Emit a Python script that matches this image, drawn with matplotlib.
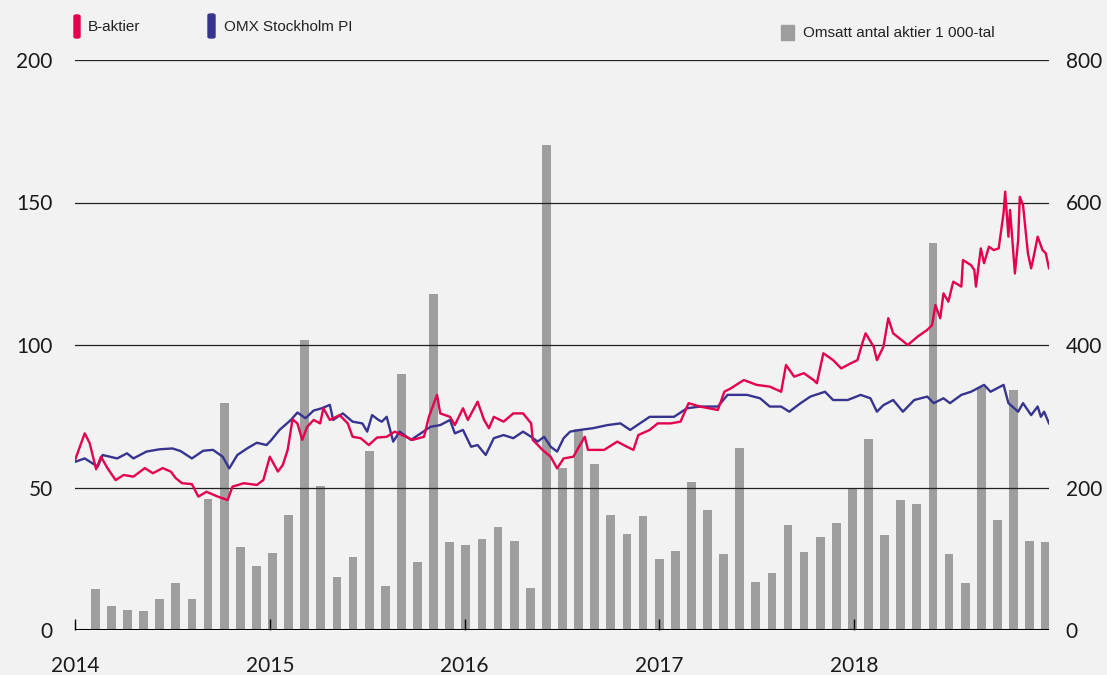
import numpy as np
import matplotlib
matplotlib.use("Agg")
import matplotlib.pyplot as plt
from matplotlib.patches import FancyBboxPatch, Rectangle

# monthly traded volume (1 000-tal), Jan 2014 .. Dec 2018
volume = [57, 34, 28, 26, 43, 66, 44, 184, 318, 117, 90, 108,
          161, 407, 202, 74, 102, 251, 62, 360, 95, 471, 124, 120,
          128, 144, 125, 59, 681, 228, 282, 233, 161, 135, 160, 100,
          111, 208, 169, 107, 256, 67, 80, 148, 109, 131, 150, 198,
          268, 133, 183, 177, 543, 107, 66, 341, 155, 337, 125, 123]

# B-aktier, (month since Jan 2014, index value)
b_month = [0.0, 0.6, 0.9, 1.3, 1.6, 2.0, 2.5, 3.0, 3.6, 4.3, 4.8, 5.4, 5.9, 6.2, 6.6,
           7.2, 7.6, 8.1, 8.8, 9.4, 9.7, 10.4, 11.2, 11.6, 12.0, 12.5, 12.8, 13.1, 13.4,
           13.7, 14.0, 14.3, 14.7, 15.1, 15.3, 15.7, 16.3, 16.8, 17.1, 17.6, 18.1, 18.6,
           19.2, 19.7, 20.8, 21.5, 21.8, 22.3, 22.5, 23.1, 23.4, 23.9, 24.2, 24.8, 25.2,
           25.5, 25.8, 26.4, 27.0, 27.6, 28.1, 28.2, 28.8, 29.3, 29.7, 30.1, 30.7, 31.4,
           31.6, 32.6, 33.4, 34.0, 34.4, 34.7, 35.4, 35.9, 36.7, 37.3, 37.8, 38.5, 39.6,
           40.0, 40.4, 41.2, 42.0, 42.8, 43.5, 43.8, 44.3, 44.9, 45.5, 45.7, 46.1, 46.7,
           47.2, 47.8, 48.2, 48.5, 48.7, 49.2, 49.4, 49.8, 50.1, 50.4, 50.9, 51.3, 51.9,
           52.5, 52.8, 53.0, 53.3, 53.5, 53.8, 54.1, 54.6, 54.7, 55.2, 55.4, 55.5, 55.8,
           56.0, 56.3, 56.6, 56.9, 57.2, 57.3, 57.5, 57.6, 57.9, 58.1, 58.2, 58.4, 58.7,
           58.9, 59.1, 59.3, 59.6, 59.8, 60.0]
b_value = [59.6, 69.0, 65.6, 56.4, 60.8, 56.8, 52.6, 54.4, 53.8, 56.8, 55.0, 56.8, 55.6, 53.3, 51.5,
           51.2, 46.8, 48.5, 46.8, 45.6, 50.3, 51.5, 50.9, 52.6, 60.8, 55.6, 57.9, 63.2, 73.9,
           72.5, 66.7, 71.3, 73.7, 72.5, 77.8, 73.7, 75.4, 72.5, 67.8, 67.3, 64.9, 67.5,
           67.8, 69.6, 66.7, 67.8, 74.8, 82.5, 76.0, 74.8, 71.9, 77.8, 73.7, 80.1, 73.7,
           70.8, 74.8, 73.1, 76.0, 76.0, 72.5, 66.7, 63.2, 60.8, 56.7, 60.2, 60.8, 67.8,
           63.2, 63.2, 66.1, 64.3, 63.2, 68.4, 70.2, 72.5, 72.5, 73.1, 79.6, 78.4, 77.2,
           83.6, 84.8, 87.7, 86.0, 85.4, 83.6, 93.0, 88.9, 90.1, 87.7, 86.6, 97.1, 94.7,
           91.8, 93.6, 94.7, 100.6, 104.1, 99.4, 94.7, 99.4, 109.4, 104.1, 101.8, 100.0, 102.9,
           105.3, 107.0, 114.0, 109.4, 118.1, 115.2, 122.2, 120.5, 129.8, 128.0, 126.3, 120.5, 133.9,
           128.7, 134.5, 133.3, 133.9, 146.2, 153.8, 138.0, 147.4, 125.1, 136.8, 152.0, 149.1, 132.2,
           126.9, 132.2, 138.0, 133.3, 132.2, 126.9]

# OMX Stockholm PI
omx_month = [0.0, 0.6, 1.4, 1.7, 2.6, 3.2, 3.6, 4.4, 5.2, 6.0, 6.5, 7.2, 7.9, 8.5, 9.1,
             9.5, 10.0, 10.6, 11.2, 11.8, 12.1, 12.6, 13.3, 13.7, 14.2, 14.7, 15.2, 15.7,
             15.9, 16.5, 17.1, 17.7, 18.0, 18.3, 18.7, 18.9, 19.2, 19.6, 20.0, 20.7, 21.3,
             21.9, 22.5, 23.1, 23.4, 23.9, 24.4, 24.8, 25.3, 25.8, 26.4, 27.0, 27.6, 28.1,
             28.5, 28.9, 29.3, 29.7, 30.1, 30.5, 31.1, 31.9, 32.8, 33.6, 34.2, 34.8, 35.4,
             36.1, 36.9, 37.7, 38.5, 39.6, 40.2, 41.4, 42.2, 42.8, 43.5, 44.0, 44.7, 45.3,
             46.2, 46.7, 47.6, 48.4, 49.0, 49.4, 49.8, 50.4, 51.0, 51.7, 52.5, 52.9, 53.5,
             53.9, 54.6, 55.2, 56.0, 56.4, 57.2, 57.5, 58.1, 58.4, 58.9, 59.3, 59.5, 59.7, 60.0]
omx_value = [59.0, 60.2, 57.3, 61.4, 60.2, 62.0, 60.2, 62.6, 63.4, 63.7, 62.8, 60.2, 62.9, 63.2, 60.8,
             56.7, 61.4, 63.7, 65.7, 64.9, 66.7, 70.2, 73.7, 76.3, 74.3, 77.0, 77.8, 79.0,
             73.7, 76.0, 73.1, 72.5, 69.6, 75.4, 73.7, 73.1, 74.8, 66.1, 69.6, 66.7, 69.0,
             71.3, 71.9, 73.7, 69.0, 70.2, 64.3, 64.9, 61.4, 67.3, 68.4, 67.3, 69.6, 67.8,
             66.1, 67.8, 64.3, 62.6, 67.3, 69.6, 70.2, 70.8, 71.9, 72.5, 70.2, 72.5, 74.8,
             74.8, 74.8, 77.8, 78.4, 78.4, 82.5, 82.5, 81.3, 78.4, 78.4, 76.6, 79.6, 81.9,
             83.6, 80.7, 80.7, 82.5, 81.3, 76.6, 78.9, 80.7, 76.6, 80.7, 81.9, 79.6, 81.3,
             79.6, 82.5, 83.6, 86.0, 83.6, 86.0, 79.6, 76.6, 79.6, 75.4, 78.4, 74.8, 76.6, 72.5]

years = ["2014", "2015", "2016", "2017", "2018"]
left_ticks = [0, 50, 100, 150, 200]
right_ticks = [0, 200, 400, 600, 800]

RED = "#e4004f"
BLUE = "#37348f"
GREY = "#9e9e9e"
BG = "#f2f2f2"
W, H = 1107, 675

fig = plt.figure(figsize=(W / 100, H / 100), dpi=100, facecolor=BG)
ax = fig.add_axes([75 / W, 1 - 630 / H, (1049 - 75) / W, (630 - 60) / H])
ax.set_facecolor(BG)
ax2 = ax.twinx()

# bars on the primary axis (right scale), lines on twin drawn above
bar_pos = np.linspace(1.25, 59.8, len(volume))
ax.bar(bar_pos, volume, width=0.54, color=GREY, zorder=1)
for v in right_ticks[1:]:
    ax.axhline(v, color="#222222", lw=0.9, zorder=2)
ax.axhline(0, color="black", lw=2.2, zorder=3)
ax.set_ylim(0, 800)
ax.set_xlim(0, 60)
ax.yaxis.tick_right()
ax.set_yticks(right_ticks)
ax.set_yticklabels([str(v) for v in right_ticks])
ax.tick_params(axis="y", length=0, pad=12, labelsize=15)
ax.set_xticks([0, 12, 24, 36, 48])
ax.set_xticklabels(years)
ax.tick_params(axis="x", direction="in", length=8, width=1, pad=19, labelsize=15)
for s in ax.spines.values():
    s.set_visible(False)

ax2.plot(omx_month, omx_value, color=BLUE, lw=1.7, zorder=4)
ax2.plot(b_month, b_value, color=RED, lw=1.7, zorder=5)
ax2.set_ylim(0, 200)
ax2.set_xlim(0, 60)
ax2.yaxis.tick_left()
ax2.set_yticks(left_ticks)
ax2.set_yticklabels([str(v) for v in left_ticks])
ax2.tick_params(axis="y", length=0, pad=16, labelsize=15)
for s in ax2.spines.values():
    s.set_visible(False)

for a in (ax, ax2):
    for lab in a.get_xticklabels() + a.get_yticklabels():
        lab.set_fontfamily("Lato")
        lab.set_color("#1a1a1a")

# legend
def fx(px):
    return px / W

def fy(py):
    return 1 - py / H

fig.patches.append(FancyBboxPatch((fx(74), fy(38)), 6 / W, 23 / H, boxstyle="round,pad=0,rounding_size=0.002",
                                  transform=fig.transFigure, color=RED))
fig.patches.append(FancyBboxPatch((fx(208), fy(38)), 7 / W, 24 / H, boxstyle="round,pad=0,rounding_size=0.002",
                                  transform=fig.transFigure, color=BLUE))
fig.patches.append(Rectangle((fx(781), fy(40)), 13 / W, 15 / H, transform=fig.transFigure, color=GREY))
fig.text(fx(88), fy(27), "B-aktier", fontsize=11, family="Liberation Sans", va="center", color="#222222")
fig.text(fx(224), fy(27), "OMX Stockholm PI", fontsize=11, family="Liberation Sans", va="center", color="#222222")
fig.text(fx(803), fy(33), "Omsatt antal aktier 1 000-tal", fontsize=11, family="Liberation Sans",
         va="center", color="#222222")

fig.savefig("out.png", dpi=100, facecolor=BG)
